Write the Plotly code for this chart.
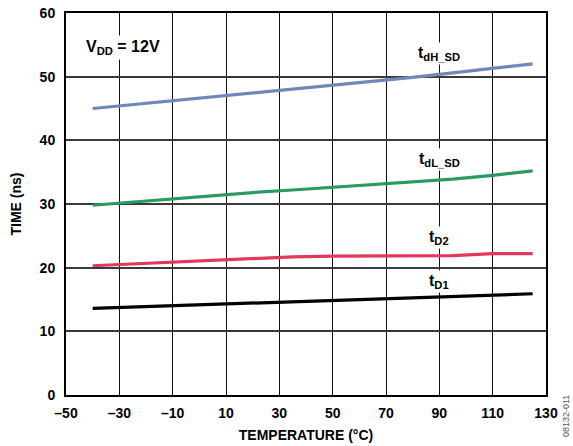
import plotly.graph_objects as go

# Temperature sweep (°C)
temperature = [-40, -25, -10, 5, 20, 35, 50, 65, 80, 95, 110, 125]

# Propagation / shutdown delays (ns)
t_dh_sd = [45.0, 45.6, 46.3, 46.8, 47.4, 48.0, 48.6, 49.2, 49.9, 50.6, 51.3, 52.0]
t_dl_sd = [29.8, 30.3, 30.8, 31.4, 31.8, 32.2, 32.6, 33.0, 33.4, 33.9, 34.5, 35.2]
t_d2 = [20.3, 20.6, 20.9, 21.2, 21.5, 21.7, 21.8, 21.8, 21.9, 21.9, 22.2, 22.2]
t_d1 = [13.6, 13.8, 14.0, 14.2, 14.4, 14.6, 14.8, 15.0, 15.2, 15.4, 15.6, 15.9]

x_ticks = [-50, -30, -10, 10, 30, 50, 70, 90, 110, 130]
x_tick_text = ["–50", "–30", "–10", "10", "30", "50", "70", "90", "110", "130"]
y_ticks = [0, 10, 20, 30, 40, 50, 60]

series = [
    (t_dh_sd, "#6f88bb", "t<sub>dH_SD</sub>", 53.6),
    (t_dl_sd, "#2a9a64", "t<sub>dL_SD</sub>", 37.0),
    (t_d2, "#e2385d", "t<sub>D2</sub>", 24.8),
    (t_d1, "#000000", "t<sub>D1</sub>", 17.9),
]

FONT = "Liberation Sans, Arial, sans-serif"

fig = go.Figure()
annotations = []
for values, color, label, label_y in series:
    fig.add_trace(go.Scatter(
        x=temperature, y=values, mode="lines",
        line=dict(color=color, width=3.2),
        showlegend=False, hoverinfo="skip",
    ))
    annotations.append(dict(
        x=90, y=label_y, xref="x", yref="y", text="<b>" + label + "</b>",
        showarrow=False, bgcolor="white", borderpad=1,
        font=dict(family=FONT, size=16, color="black"),
    ))

annotations.append(dict(
    x=-28.5, y=54.6, xref="x", yref="y", text="<b>V<sub>DD</sub> = 12V</b>",
    showarrow=False, bgcolor="white", borderpad=2,
    font=dict(family=FONT, size=16, color="black"),
))
annotations.append(dict(
    x=1.0, y=0.0, xref="paper", yref="paper", xanchor="left", yanchor="top",
    xshift=13, yshift=2, text="08132-011", textangle=-90, showarrow=False,
    font=dict(family=FONT, size=9, color="#555555"),
))

fig.update_layout(
    width=573, height=446,
    margin=dict(l=66, r=27, t=13, b=51),
    paper_bgcolor="white", plot_bgcolor="white",
    font=dict(family=FONT, color="black"),
    annotations=annotations,
)
fig.update_xaxes(
    range=[-50, 130], tickvals=x_ticks, ticktext=x_tick_text,
    showgrid=True, gridcolor="#111111", gridwidth=1.2,
    showline=True, linecolor="black", linewidth=2, mirror=True,
    ticks="", zeroline=False, automargin=False, ticklabelstandoff=4,
    tickfont=dict(family=FONT, size=14, color="black", weight="bold"),
    title=dict(text="<b>TEMPERATURE (°C)</b>", standoff=10,
               font=dict(family=FONT, size=14, color="black")),
)
fig.update_yaxes(
    range=[0, 60], tickvals=y_ticks,
    showgrid=True, gridcolor="#3a3a3a", gridwidth=1.6,
    showline=True, linecolor="black", linewidth=2, mirror=True,
    ticks="", zeroline=False, automargin=False, ticklabelstandoff=6,
    tickfont=dict(family=FONT, size=14, color="black", weight="bold"),
    title=dict(text="<b>TIME (ns)</b>", standoff=15,
               font=dict(family=FONT, size=14, color="black")),
)

fig.write_html("out.html")
